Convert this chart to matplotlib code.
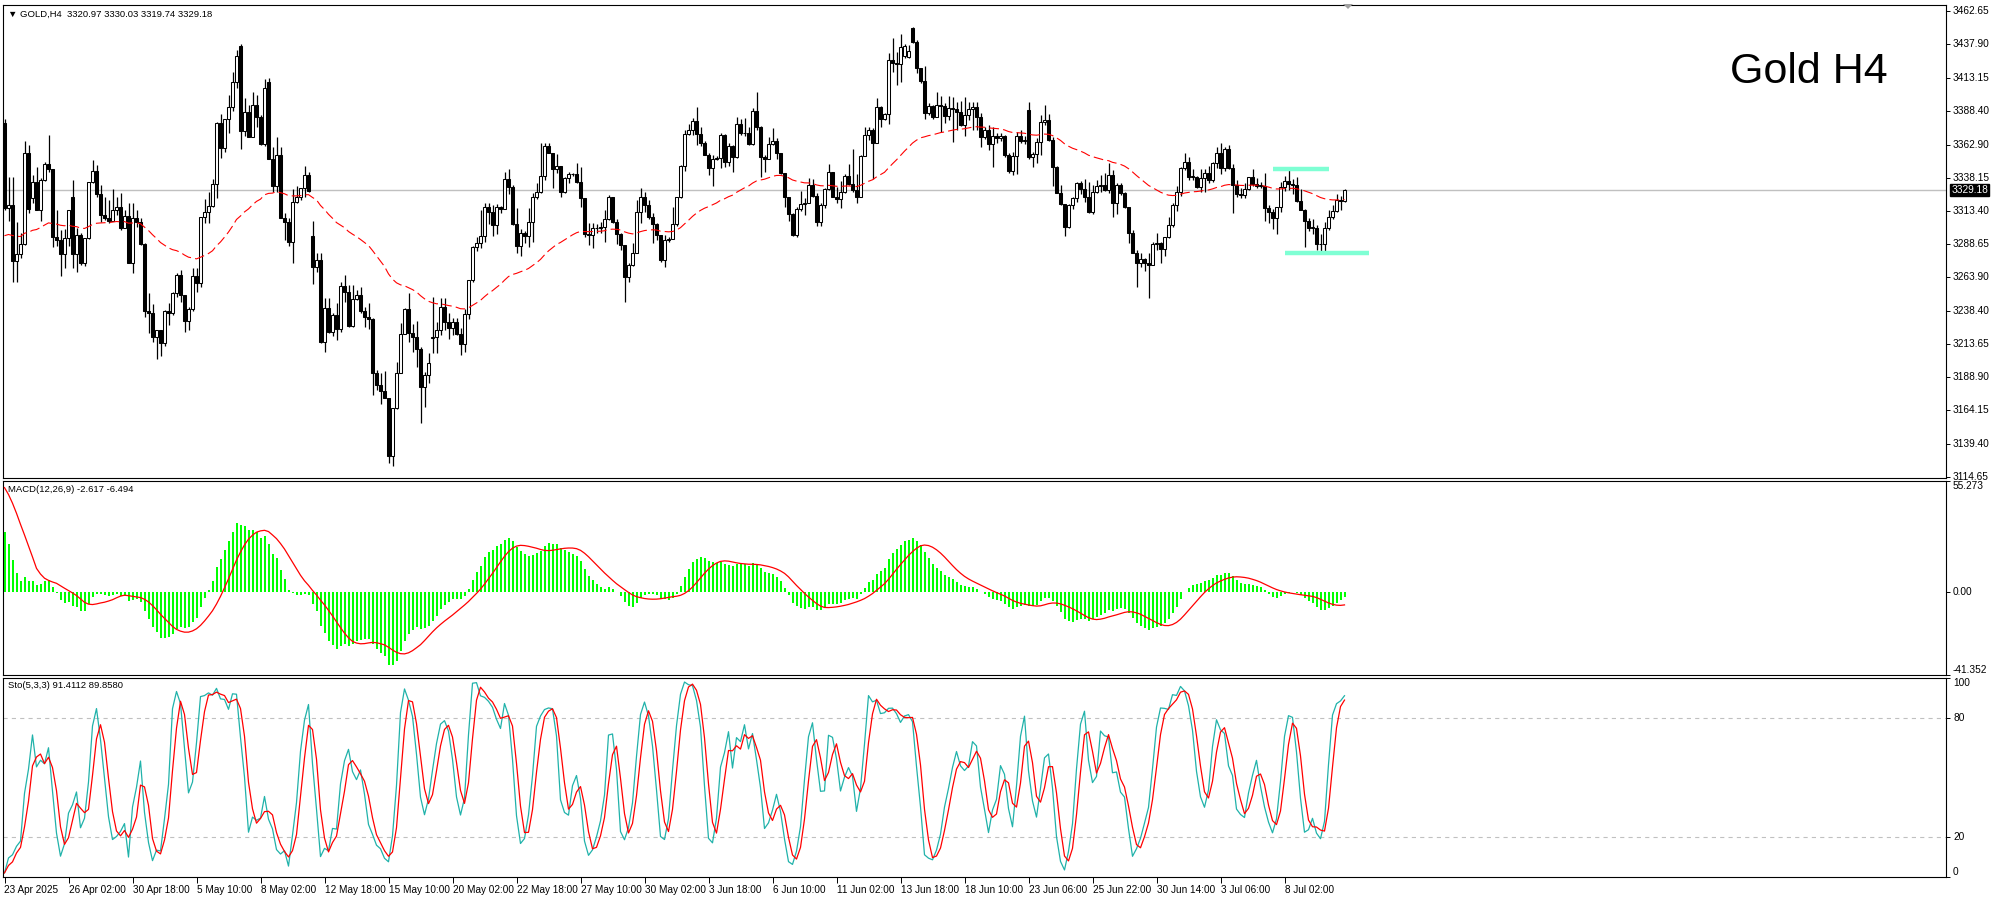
# Gold H4 - MT4 style chart with MACD and Stochastic sub-windows

import numpy as np
import matplotlib
matplotlib.use('Agg')
import matplotlib.pyplot as plt
from matplotlib.transforms import blended_transform_factory
from matplotlib.patches import Polygon

plt.rcParams['font.family'] = ['Liberation Sans', 'DejaVu Sans']
plt.rcParams['lines.scale_dashes'] = False

# ── DATA (H4 candles) ─────────────────────────────────────────────────────────
closes = [
    3315.4, 3318.0, 3276.0, 3281.0, 3289.0, 3357.0, 3315.0, 3335.0, 3314.0, 3336.6,
    3348.3, 3344.5, 3294.2, 3291.7, 3281.0, 3293.0, 3314.1, 3281.0, 3295.2, 3274.2,
    3293.2, 3334.8, 3343.5, 3325.8, 3310.4, 3308.4, 3306.2, 3314.1, 3316.6, 3300.4,
    3309.6, 3274.7, 3307.9, 3305.4, 3288.5, 3238.8, 3236.8, 3219.4, 3224.4, 3214.9,
    3238.6, 3236.8, 3251.8, 3265.5, 3250.5, 3231.4, 3239.8, 3264.8, 3259.8, 3308.6,
    3312.9, 3317.1, 3333.6, 3379.0, 3360.3, 3381.9, 3390.9, 3410.0, 3429.3, 3373.5,
    3387.7, 3369.0, 3392.7, 3383.9, 3363.2, 3405.0, 3352.5, 3332.1, 3355.3, 3307.9,
    3305.4, 3290.4, 3320.4, 3324.1, 3330.3, 3340.3, 3328.6, 3271.7, 3276.7, 3215.7,
    3240.6, 3223.1, 3235.6, 3224.9, 3257.3, 3253.0, 3227.6, 3247.3, 3250.3, 3238.8,
    3233.9, 3232.4, 3192.0, 3183.3, 3179.0, 3173.3, 3130.2, 3165.8, 3192.5, 3221.1,
    3239.8, 3221.9, 3218.9, 3209.9, 3181.5, 3190.5, 3199.5, 3218.9, 3224.4, 3241.8,
    3230.1, 3225.6, 3230.6, 3221.1, 3213.9, 3236.1, 3261.7, 3286.2, 3289.7, 3294.7,
    3316.1, 3312.9, 3302.9, 3316.1, 3314.6, 3337.0, 3331.5, 3303.6, 3287.4, 3296.6,
    3294.7, 3304.9, 3323.6, 3327.8, 3339.5, 3362.0, 3357.0, 3344.5, 3347.0, 3327.8,
    3337.8, 3341.0, 3341.0, 3335.3, 3322.8, 3296.2, 3295.4, 3300.4, 3300.4, 3301.1,
    3307.1, 3323.6, 3304.9, 3296.2, 3287.9, 3263.8, 3273.0, 3281.7, 3312.9, 3323.6,
    3317.8, 3309.1, 3303.6, 3295.4, 3276.7, 3291.7, 3292.2, 3303.6, 3323.6, 3347.3,
    3370.9, 3373.9, 3380.7, 3370.9, 3364.5, 3355.2, 3345.3, 3352.0, 3352.7, 3370.2,
    3350.2, 3362.0, 3353.5, 3378.2, 3371.4, 3372.0, 3363.4, 3388.4, 3375.9, 3353.5,
    3352.0, 3363.4, 3365.7, 3356.5, 3341.5, 3323.6, 3311.1, 3295.4, 3314.6, 3318.6,
    3319.1, 3332.8, 3324.6, 3305.4, 3317.8, 3329.6, 3342.8, 3324.1, 3322.1, 3327.8,
    3339.5, 3333.5, 3329.1, 3323.6, 3354.5, 3370.2, 3373.9, 3364.5, 3390.9, 3381.9,
    3385.9, 3426.3, 3424.3, 3423.3, 3435.8, 3436.5, 3433.0, 3440.0, 3420.0, 3410.8,
    3386.9, 3391.9, 3383.9, 3392.6, 3391.9, 3384.6, 3390.1, 3389.4, 3387.6, 3377.7,
    3385.2, 3389.6, 3390.9, 3383.9, 3368.4, 3373.9, 3363.5, 3369.4, 3367.7, 3369.4,
    3355.2, 3343.5, 3354.5, 3369.4, 3366.0, 3366.0, 3354.0, 3356.0, 3365.2, 3380.2,
    3381.4, 3366.5, 3346.5, 3327.1, 3318.6, 3301.6, 3317.8, 3322.8, 3334.0, 3330.0,
    3324.1, 3312.9, 3327.8, 3332.1, 3332.8, 3329.1, 3340.3, 3319.1, 3332.8, 3327.1,
    3316.1, 3297.1, 3282.2, 3274.2, 3277.2, 3274.2, 3273.2, 3288.7, 3289.2, 3284.7,
    3293.7, 3302.9, 3317.8, 3327.8, 3345.3, 3350.2, 3339.0, 3339.0, 3331.5, 3337.8,
    3341.5, 3336.5, 3349.5, 3356.5, 3345.3, 3359.5, 3345.3, 3332.8, 3326.0, 3325.0,
    3330.0, 3338.5, 3333.6, 3332.3, 3332.3, 3315.9, 3312.9, 3308.4, 3316.6, 3331.0,
    3335.8, 3333.6, 3332.8, 3320.9, 3314.1, 3306.2, 3300.9, 3300.9, 3288.7, 3288.5,
    3300.4, 3308.7, 3313.4, 3321.6, 3320.97, 3329.18,
]
highs = [
    3382.0, 3338.6, 3339.0, 3305.0, 3297.0, 3366.0, 3363.0, 3340.0, 3346.5, 3338.0,
    3349.8, 3370.2, 3344.8, 3314.1, 3299.2, 3299.7, 3314.1, 3336.6, 3300.4, 3296.7,
    3293.2, 3334.8, 3351.5, 3347.8, 3332.8, 3324.1, 3321.6, 3329.6, 3324.1, 3327.1,
    3314.1, 3319.1, 3319.1, 3314.1, 3307.9, 3289.7, 3251.8, 3243.8, 3224.4, 3224.4,
    3239.3, 3244.3, 3253.0, 3267.3, 3269.3, 3249.8, 3241.3, 3270.5, 3270.5, 3309.1,
    3322.1, 3327.8, 3337.1, 3380.2, 3385.9, 3381.9, 3400.0, 3417.5, 3433.8, 3438.0,
    3398.0, 3392.7, 3402.0, 3400.0, 3385.0, 3412.0, 3413.0, 3361.5, 3369.0, 3361.5,
    3311.6, 3307.9, 3329.6, 3332.1, 3330.3, 3347.0, 3342.8, 3306.2, 3281.7, 3281.7,
    3248.1, 3248.1, 3236.8, 3244.8, 3260.5, 3265.5, 3258.0, 3258.0, 3254.3, 3256.8,
    3241.8, 3244.3, 3233.1, 3194.5, 3192.0, 3194.0, 3173.3, 3165.8, 3200.0, 3229.4,
    3240.6, 3252.3, 3228.9, 3231.4, 3211.4, 3193.2, 3207.0, 3249.3, 3230.6, 3248.1,
    3248.1, 3236.8, 3233.1, 3233.1, 3225.6, 3239.8, 3261.7, 3287.0, 3294.2, 3314.1,
    3319.6, 3319.6, 3317.8, 3318.6, 3317.1, 3342.8, 3344.5, 3332.8, 3315.4, 3299.6,
    3298.6, 3315.4, 3327.1, 3334.0, 3364.0, 3364.5, 3364.5, 3355.2, 3356.0, 3347.0,
    3338.5, 3342.8, 3342.0, 3349.0, 3346.5, 3322.8, 3304.1, 3304.1, 3303.6, 3305.4,
    3314.1, 3325.3, 3324.1, 3307.1, 3296.6, 3287.2, 3274.2, 3289.2, 3321.6, 3330.3,
    3327.8, 3321.6, 3311.6, 3304.6, 3295.4, 3295.4, 3294.2, 3316.6, 3324.1, 3348.0,
    3374.0, 3378.4, 3382.7, 3390.9, 3376.4, 3366.0, 3357.0, 3355.2, 3354.5, 3371.4,
    3371.0, 3364.0, 3362.7, 3383.4, 3381.9, 3382.7, 3376.4, 3390.1, 3402.6, 3376.9,
    3355.2, 3369.0, 3375.2, 3367.7, 3356.5, 3341.5, 3324.1, 3312.1, 3316.6, 3328.6,
    3322.8, 3337.8, 3337.0, 3326.6, 3319.1, 3330.3, 3348.5, 3342.8, 3331.5, 3336.0,
    3341.0, 3348.5, 3359.5, 3341.0, 3355.2, 3376.4, 3376.4, 3375.2, 3397.6, 3391.9,
    3386.9, 3431.8, 3442.5, 3432.5, 3445.7, 3438.3, 3437.5, 3450.7, 3441.2, 3420.0,
    3421.8, 3393.9, 3392.6, 3402.6, 3399.4, 3394.4, 3399.4, 3398.9, 3395.1, 3395.8,
    3398.4, 3395.1, 3395.1, 3395.1, 3386.4, 3376.4, 3377.7, 3375.9, 3371.9, 3371.5,
    3370.2, 3357.0, 3357.7, 3372.7, 3373.9, 3369.4, 3395.1, 3357.7, 3367.7, 3385.2,
    3392.6, 3385.9, 3368.4, 3347.0, 3332.8, 3318.6, 3318.6, 3324.1, 3335.3, 3335.5,
    3337.0, 3335.3, 3332.8, 3336.5, 3340.3, 3341.5, 3349.5, 3344.0, 3334.5, 3334.0,
    3327.8, 3316.6, 3299.1, 3284.2, 3282.2, 3278.0, 3282.2, 3290.4, 3296.6, 3290.4,
    3294.2, 3309.1, 3319.6, 3332.0, 3346.5, 3357.0, 3353.5, 3344.5, 3339.5, 3344.5,
    3344.5, 3347.0, 3350.2, 3361.0, 3364.0, 3361.0, 3362.7, 3348.5, 3336.5, 3330.3,
    3334.0, 3339.0, 3344.6, 3337.8, 3335.3, 3341.6, 3317.9, 3314.6, 3316.6, 3335.3,
    3339.6, 3345.3, 3337.1, 3338.6, 3329.6, 3314.9, 3307.9, 3307.2, 3302.9, 3295.9,
    3305.4, 3314.1, 3317.9, 3326.1, 3324.6, 3330.03,
]
lows = [
    3314.0, 3305.6, 3260.0, 3260.0, 3278.0, 3288.0, 3312.0, 3319.0, 3314.0, 3306.0,
    3336.0, 3342.8, 3286.7, 3287.4, 3265.0, 3270.5, 3287.4, 3270.5, 3268.0, 3273.0,
    3272.5, 3292.0, 3334.0, 3324.1, 3305.4, 3306.6, 3304.2, 3306.0, 3310.4, 3299.2,
    3304.2, 3274.7, 3267.3, 3301.7, 3288.0, 3234.4, 3221.9, 3215.7, 3202.4, 3204.9,
    3212.4, 3228.1, 3235.6, 3249.3, 3245.6, 3223.1, 3224.4, 3238.8, 3253.0, 3256.8,
    3304.7, 3304.7, 3316.6, 3322.9, 3352.8, 3357.8, 3372.0, 3388.0, 3405.0, 3359.5,
    3369.5, 3369.0, 3369.0, 3376.5, 3362.7, 3362.0, 3352.5, 3327.8, 3327.8, 3307.9,
    3291.7, 3287.2, 3274.7, 3319.1, 3321.6, 3324.1, 3327.8, 3258.8, 3268.0, 3214.9,
    3208.2, 3221.9, 3219.9, 3216.9, 3223.1, 3245.6, 3226.9, 3226.4, 3246.8, 3236.8,
    3226.9, 3224.9, 3175.8, 3179.5, 3169.0, 3173.3, 3124.7, 3122.7, 3165.0, 3192.0,
    3221.0, 3215.7, 3208.2, 3197.0, 3155.1, 3167.0, 3185.0, 3207.0, 3207.0, 3220.7,
    3224.4, 3217.4, 3220.7, 3220.7, 3205.6, 3208.1, 3232.3, 3260.0, 3283.7, 3285.4,
    3290.4, 3303.6, 3294.7, 3296.2, 3311.6, 3314.6, 3326.1, 3302.9, 3282.2, 3279.7,
    3289.2, 3286.7, 3290.4, 3322.1, 3326.6, 3336.5, 3356.5, 3330.3, 3342.0, 3323.6,
    3326.6, 3334.5, 3339.5, 3334.5, 3316.1, 3294.2, 3287.9, 3285.4, 3296.6, 3296.6,
    3290.4, 3306.6, 3304.1, 3288.7, 3284.2, 3245.5, 3260.5, 3272.2, 3281.7, 3304.1,
    3312.9, 3307.1, 3289.7, 3291.7, 3275.5, 3271.7, 3290.4, 3294.2, 3302.1, 3322.8,
    3343.5, 3370.2, 3370.2, 3362.7, 3362.0, 3355.2, 3340.3, 3332.1, 3351.5, 3345.3,
    3346.5, 3347.0, 3342.8, 3352.7, 3370.2, 3369.5, 3362.7, 3362.7, 3373.9, 3339.0,
    3342.8, 3352.0, 3362.7, 3352.0, 3341.0, 3316.6, 3306.1, 3294.7, 3293.7, 3313.6,
    3310.4, 3319.1, 3324.1, 3302.4, 3302.1, 3315.4, 3329.1, 3323.6, 3319.6, 3315.4,
    3326.6, 3332.8, 3327.8, 3319.1, 3323.6, 3355.2, 3366.5, 3337.0, 3364.0, 3376.4,
    3381.4, 3378.4, 3417.6, 3407.6, 3410.1, 3427.6, 3427.5, 3438.7, 3416.3, 3408.8,
    3381.9, 3385.2, 3381.9, 3383.9, 3372.7, 3379.4, 3381.4, 3365.2, 3373.9, 3376.9,
    3369.4, 3381.4, 3373.9, 3373.9, 3361.5, 3367.0, 3359.0, 3346.5, 3364.5, 3366.0,
    3354.0, 3342.0, 3340.3, 3341.0, 3364.0, 3363.5, 3352.0, 3346.5, 3349.0, 3355.2,
    3377.7, 3366.0, 3332.0, 3326.6, 3317.8, 3294.7, 3300.4, 3314.6, 3320.4, 3326.0,
    3320.4, 3311.6, 3311.1, 3326.6, 3327.8, 3328.6, 3326.6, 3309.1, 3311.1, 3325.0,
    3315.4, 3289.2, 3281.7, 3256.3, 3271.2, 3268.7, 3248.1, 3273.0, 3284.2, 3274.2,
    3279.7, 3292.9, 3301.6, 3313.6, 3324.6, 3344.0, 3336.5, 3336.5, 3330.3, 3327.8,
    3327.8, 3334.0, 3335.3, 3345.3, 3341.0, 3343.5, 3344.5, 3311.6, 3324.0, 3322.8,
    3322.8, 3329.1, 3332.1, 3330.4, 3330.4, 3305.9, 3304.7, 3299.9, 3296.2, 3312.9,
    3327.9, 3329.1, 3326.1, 3320.4, 3314.1, 3286.7, 3298.7, 3296.2, 3284.2, 3282.2,
    3283.0, 3299.2, 3307.7, 3312.9, 3314.1, 3319.74,
]
# bars whose open is not the previous close (gaps)
open_gaps = {0: 3379.0, 7: 3323.4, 17: 3324.1, 59: 3436.8, 66: 3410.0, 77: 3294.7,
             107: 3218.0, 225: 3429.0, 226: 3428.8, 227: 3450.0, 256: 3388.9}

time_labels = ['23 Apr 2025', '26 Apr 02:00', '30 Apr 18:00', '5 May 10:00', '8 May 02:00',
               '12 May 18:00', '15 May 10:00', '20 May 02:00', '22 May 18:00', '27 May 10:00',
               '30 May 02:00', '3 Jun 18:00', '6 Jun 10:00', '11 Jun 02:00', '13 Jun 18:00',
               '18 Jun 10:00', '23 Jun 06:00', '25 Jun 22:00', '30 Jun 14:00', '3 Jul 06:00',
               '8 Jul 02:00']
label_step = 16

price_levels = [3462.65, 3437.90, 3413.15, 3388.40, 3362.90, 3338.15, 3313.40, 3288.65,
                3263.90, 3238.40, 3213.65, 3188.90, 3164.15, 3139.40, 3114.65]
bid = 3329.18
zone_high = 3344.8
zone_low = 3282.0
macd_top, macd_bottom = 55.273, -41.352

# seeds for the indicator state before the first visible bar
ma_seed = 3294.0
ema12_seed, ema26_seed = 3372.0, 3335.0
signal_seed = 54.75

# ── INDICATORS ────────────────────────────────────────────────────────────────
closes = np.array(closes)
highs = np.array(highs)
lows = np.array(lows)
n = len(closes)
opens = np.array([open_gaps.get(i, closes[i - 1] if i else closes[0]) for i in range(n)])
highs = np.maximum(highs, np.maximum(opens, closes))
lows = np.minimum(lows, np.minimum(opens, closes))


def ema(vals, period, seed):
    a = 2.0 / (period + 1)
    out, prev = [], seed
    for v in vals:
        prev = prev + a * (v - prev)
        out.append(prev)
    return np.array(out)


ma = ema(closes, 50, ma_seed)
macd = ema(closes, 12, ema12_seed) - ema(closes, 26, ema26_seed)
padded = np.concatenate([np.full(8, signal_seed), macd])
signal = np.array([padded[i:i + 9].mean() for i in range(n)])

k_line = np.zeros(n)
for i in range(n):
    num = den = 0.0
    for j in range(max(0, i - 2), i + 1):
        lo = lows[max(0, j - 4):j + 1].min()
        hi = highs[max(0, j - 4):j + 1].max()
        num += closes[j] - lo
        den += hi - lo
    k_line[i] = 100 * num / den if den else 50
d_line = np.array([k_line[max(0, i - 2):i + 1].mean() for i in range(n)])

# ── FIGURE ────────────────────────────────────────────────────────────────────
W, H = 1994, 900
fig = plt.figure(figsize=(W / 100, H / 100), dpi=100)
fig.patch.set_facecolor('white')


def rect(l, t, r, b):
    return [l / W, 1 - b / H, (r - l) / W, (b - t) / H]


RIGHT = 1946
ax1 = fig.add_axes(rect(3, 5, RIGHT, 478))
ax2 = fig.add_axes(rect(3, 481, RIGHT, 675))
ax3 = fig.add_axes(rect(3, 678, RIGHT, 877))
x = np.arange(n)
xlim = ((3 - 4.5) / 4, (RIGHT - 4.5) / 4)

for ax in (ax1, ax2, ax3):
    ax.set_xlim(*xlim)
    ax.set_facecolor('white')
    for s in ax.spines.values():
        s.set_linewidth(0.8)
        s.set_color('black')
    ax.yaxis.tick_right()
    ax.tick_params(axis='y', direction='out', length=3, width=0.7, labelright=False)
    ax.tick_params(axis='x', bottom=False, labelbottom=False)

LBL = dict(fontsize=7.3, color='black')
lx = 1953 / W

# ── Main: candles ─────────────────────────────────────────────────────────────
up = closes >= opens
ax1.vlines(x, lows, highs, color='black', lw=0.9, zorder=2)
body_lo = np.minimum(opens, closes)
body_h = np.maximum(np.abs(closes - opens), 0.2)
ax1.bar(x, body_h, bottom=body_lo, width=0.55,
        color=np.where(up, 'white', 'black'), edgecolor='black', linewidth=0.75, zorder=3)
ax1.plot(x, ma, color='red', lw=0.8, dashes=(7, 3), zorder=4)
ax1.axhline(bid, color='#c0c0c0', lw=1.0, zorder=1)
ax1.plot([317, 331], [zone_high, zone_high], color='#7fffd4', lw=3.2, solid_capstyle='butt', zorder=5)
ax1.plot([320, 341], [zone_low, zone_low], color='#7fffd4', lw=3.2, solid_capstyle='butt', zorder=5)
ax1.set_ylim(3113.6, 3467.4)
ax1.set_yticks(price_levels)
tr1 = blended_transform_factory(fig.transFigure, ax1.transData)
for p in price_levels:
    fig.text(lx, p, f'{p:.2f}', transform=tr1, va='center', ha='left', **LBL)
fig.text(lx - 0.0008, bid, f'{bid:.2f}', transform=tr1, va='center', ha='left',
         fontsize=7.3, color='white',
         bbox=dict(boxstyle='square,pad=0.12', fc='black', ec='black'))

fig.text(8 / W, 1 - 14 / H, '▼ GOLD,H4  3320.97 3330.03 3319.74 3329.18',
         fontsize=6.8, va='center', ha='left')
fig.text(1730 / W, 1 - 72 / H, 'Gold H4', fontsize=31, va='center', ha='left')
fig.patches.append(Polygon([[1343 / W, 1 - 4 / H], [1353 / W, 1 - 4 / H], [1348 / W, 1 - 9 / H]],
                           closed=True, transform=fig.transFigure, fc='#a0a0a0', ec='none'))

# ── MACD ──────────────────────────────────────────────────────────────────────
ax2.bar(x, macd, width=0.5, color='#00ff00', zorder=2)
ax2.plot(x, signal, color='red', lw=0.9, zorder=3)
ax2.set_ylim(macd_bottom, macd_top)
ax2.set_yticks([macd_top, 0, macd_bottom])
tr2 = blended_transform_factory(fig.transFigure, ax2.transData)
fig.text(lx, macd_top, '55.273', transform=tr2, va='top', ha='left', **LBL)
fig.text(lx, 0, '0.00', transform=tr2, va='center', ha='left', **LBL)
fig.text(lx, macd_bottom, '-41.352', transform=tr2, va='bottom', ha='left', **LBL)
fig.text(8 / W, 1 - 489 / H, 'MACD(12,26,9) -2.617 -6.494', fontsize=6.8, va='center', ha='left')

# ── Stochastic ────────────────────────────────────────────────────────────────
ax3.axhline(80, color='#c0c0c0', lw=0.8, dashes=(3, 3), zorder=1)
ax3.axhline(20, color='#c0c0c0', lw=0.8, dashes=(3, 3), zorder=1)
ax3.plot(x, k_line, color='#20b2aa', lw=0.9, zorder=2)
ax3.plot(x, d_line, color='red', lw=0.9, zorder=3)
ax3.set_ylim(0, 100)
ax3.set_yticks([100, 80, 20, 0])
tr3 = blended_transform_factory(fig.transFigure, ax3.transData)
fig.text(lx, 100, '100', transform=tr3, va='top', ha='left', **LBL)
fig.text(lx, 80, '80', transform=tr3, va='center', ha='left', **LBL)
fig.text(lx, 20, '20', transform=tr3, va='center', ha='left', **LBL)
fig.text(lx, 0, '0', transform=tr3, va='bottom', ha='left', **LBL)
fig.text(8 / W, 1 - 686 / H, 'Sto(5,3,3) 91.4112 89.8580', fontsize=6.8, va='center', ha='left')

# time axis
tick_pos = [i * label_step for i in range(len(time_labels))]
ax3.set_xticks(tick_pos)
ax3.set_xticklabels(time_labels)
ax3.tick_params(axis='x', bottom=True, labelbottom=True, direction='out',
                length=4, width=0.7, pad=2, labelsize=7.2)
for t in ax3.get_xticklabels():
    t.set_ha('left')

fig.savefig('out.png', dpi=100, facecolor='white')
